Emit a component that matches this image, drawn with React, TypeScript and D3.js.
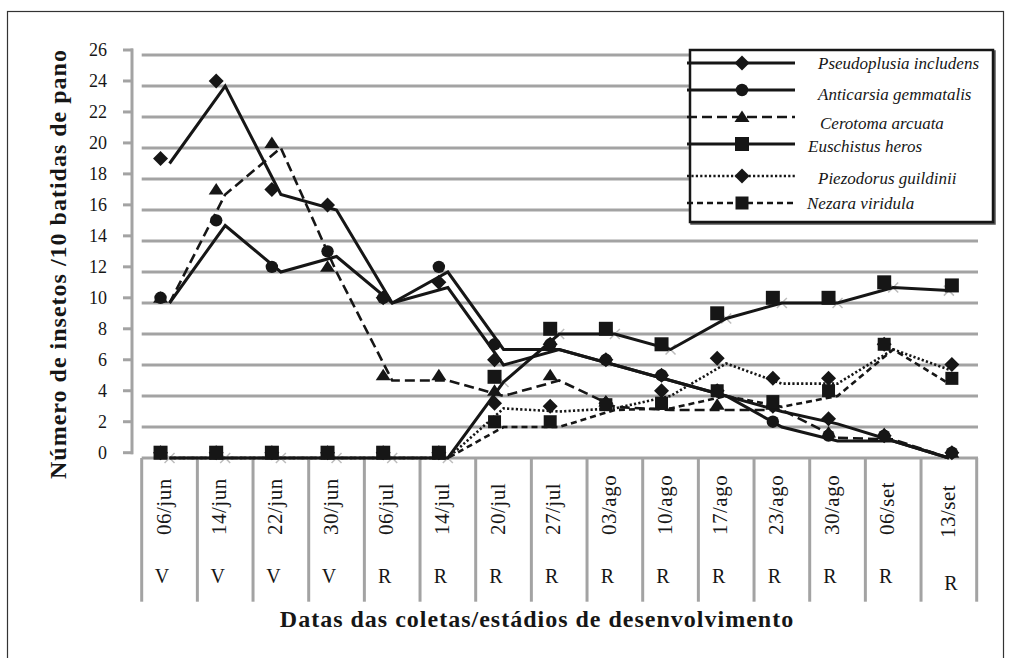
import * as d3 from "d3";

// collection dates and crop stages (V = vegetative, R = reproductive)
const dates = ["06/jun", "14/jun", "22/jun", "30/jun", "06/jul", "14/jul", "20/jul", "27/jul", "03/ago", "10/ago", "17/ago", "23/ago", "30/ago", "06/set", "13/set"];
const stages = ["V", "V", "V", "V", "R", "R", "R", "R", "R", "R", "R", "R", "R", "R", "R"];
const yTicks = [0, 2, 4, 6, 8, 10, 12, 14, 16, 18, 20, 22, 24, 26];

// insects per 10 cloth beats
const pseudoplusia = [19, 24, 17, 16, 10, 11, 6, 7, 6, 5, 4, 3, 2.2, 1.1, 0];
const anticarsia = [10, 15, 12, 13, 10, 12, 7, 7, 6, 5, 4, 2, 1.1, 1.1, 0];
const cerotoma = [10, 17, 20, 12, 5, 5, 4, 5, 3.3, 3.1, 3.1, 3.1, 1.3, 1.2, 0];
const euschistus = [0, 0, 0, 0, 0, 0, 4.9, 8, 8, 7, 9, 10, 10, 11, 10.8];
const piezodorus = [0, 0, 0, 0, 0, 0, 3.2, 3, 3.2, 4, 6.1, 4.8, 4.8, 7, 5.7];
const nezara = [0, 0, 0, 0, 0, 0, 2, 2, 3.1, 3.2, 4, 3.3, 4, 7, 4.8];

type Shape = "diamond" | "circle" | "triangle" | "square" | "smallSquare";
interface Serie { name: string; values: number[]; dash: string | null; shape: Shape }

const series: Serie[] = [
    { name: "Pseudoplusia includens", values: pseudoplusia, dash: null, shape: "diamond" },
    { name: "Anticarsia gemmatalis", values: anticarsia, dash: null, shape: "circle" },
    { name: "Cerotoma arcuata", values: cerotoma, dash: "10,5", shape: "triangle" },
    { name: "Euschistus heros", values: euschistus, dash: null, shape: "square" },
    { name: "Piezodorus guildinii", values: piezodorus, dash: "2.2,2.2", shape: "diamond" },
    { name: "Nezara viridula", values: nezara, dash: "6,4", shape: "smallSquare" },
]

const FONT = "'Liberation Serif', 'Times New Roman', serif"
const GRID = "#a3a3a3"
const INK = "#161616"

// layout of the legend rows
const legendRowY = [63, 90, 117, 144, 176, 203]
const legendTextX = [818, 818, 820, 808, 818, 807]
const legendTextDy = [0, 4, 6, 2, 2, 0]

const Marker = ({ shape, x, y }: { shape: Shape, x: number, y: number }) => {
    if (shape === "circle") return <circle cx={x} cy={y} r={6.2} fill={INK} />
    let d = ""
    if (shape === "diamond") d = "M0,-7.5L7.5,0L0,7.5L-7.5,0Z"
    if (shape === "triangle") d = "M0,-6.5L7.5,5L-7.5,5Z"
    if (shape === "square") d = "M-7,-7h14v14h-14Z"
    if (shape === "smallSquare") d = "M-6.5,-6.5h13v13h-13Z"
    return <path d={d} transform={`translate(${x},${y})`} fill={INK} />
}

const App = () => {
    const width = 1014
    const height = 658
    // category bands of the plot area
    const x = d3.scaleBand().domain(dates).range([141.7, 976.7]).padding(0)
    const bw = x.bandwidth()
    const cx = (i: number) => (x(dates[i]) ?? 0) + bw / 2
    // lines sit on the gridlines, markers on the axis ticks (a few px up/left)
    const yLine = d3.scaleLinear().domain([0, 26]).range([458, 55])
    const yMark = d3.scaleLinear().domain([0, 26]).range([452.7, 50])
    const last = dates.length - 1
    const markDx = (i: number) => (i === last ? 3 : -9)

    const line = d3.line<number>()
        .x((_, i) => cx(i))
        .y(d => yLine(d))

    const gridVals = yTicks.filter(t => t > 0)

    return (
        <svg width={width} height={height} style={{ position: "absolute", left: 0, top: 0, background: "#fff" }}
            fontFamily={FONT}>
            <rect x={0} y={0} width={width} height={height} fill="#fff" />
            {/* outer frame */}
            <rect x={7.5} y={11.5} width={996} height={660} fill="none" stroke="#333" strokeWidth={1.2} />

            {/* horizontal gridlines */}
            {gridVals.map(t => (
                <line key={t} x1={141.7} x2={978} y1={yLine(t)} y2={yLine(t)} stroke={GRID} strokeWidth={3} />
            ))}
            {/* category axis line and separators */}
            <line x1={141.7} x2={978} y1={yLine(0)} y2={yLine(0)} stroke={GRID} strokeWidth={3} />
            {d3.range(dates.length + 1).map(k => {
                const xx = 141.7 + k * bw
                return <line key={k} x1={xx} x2={xx} y1={yLine(0)} y2={601.7} stroke={GRID} strokeWidth={3} />
            })}

            {/* value axis */}
            <line x1={132} x2={132} y1={yMark(26) - 1.5} y2={yMark(0) + 1.5} stroke={GRID} strokeWidth={3} />
            {yTicks.map(t => (
                <g key={t}>
                    <line x1={123} x2={133} y1={yMark(t)} y2={yMark(t)} stroke={GRID} strokeWidth={3} />
                    <text x={107} y={yMark(t)} dy="0.35em" textAnchor="end" fontSize={18} fill={INK}>{t}</text>
                </g>
            ))}

            {/* date and stage labels */}
            {dates.map((d, i) => (
                <text key={d} transform={`translate(${cx(i) + (i === last ? 6 : 1)},${i === last ? 538 : 535}) rotate(-90)`}
                    fontSize={21} letterSpacing={0.5} fill={INK}>{d}</text>
            ))}
            {stages.map((s, i) => (
                <text key={i} x={cx(i) + (i === last ? 2 : -7.5)} y={i === last ? 590 : 583} textAnchor="middle"
                    fontSize={20} fill={INK}>{s}</text>
            ))}

            {/* axis titles */}
            <text x={537} y={627} textAnchor="middle" fontSize={24} fontWeight="bold" letterSpacing={1} fill={INK}>
                Datas das coletas/estádios de desenvolvimento
            </text>
            <text transform="translate(66,264) rotate(-90)" textAnchor="middle" fontSize={24} fontWeight="bold"
                letterSpacing={1} fill={INK}>
                Número de insetos /10 batidas de pano
            </text>

            {/* grey x marks on the Euschistus vertices */}
            {euschistus.map((v, i) => (
                <path key={i} d="M-5,-5L5,5M-5,5L5,-5" transform={`translate(${cx(i)},${yLine(v)})`}
                    stroke="#bdbdbd" strokeWidth={1.5} fill="none" />
            ))}

            {/* series lines */}
            {series.map(s => (
                <path key={s.name} d={line(s.values) ?? ""} fill="none" stroke={INK}
                    strokeWidth={s.dash ? 2.6 : 3} strokeDasharray={s.dash ?? undefined} strokeLinejoin="miter" />
            ))}

            {/* markers */}
            {series.map(s => (
                <g key={s.name}>
                    {s.values.map((v, i) => (
                        <Marker key={i} shape={s.shape} x={cx(i) + markDx(i)} y={yMark(v)} />
                    ))}
                </g>
            ))}

            {/* legend */}
            <rect x={691.5} y={51.5} width={303} height={172} fill="none" stroke="#555" strokeWidth={2.5} />
            <rect x={690} y={50} width={303} height={172} fill="#fff" stroke={INK} strokeWidth={2.5} />
            {series.map((s, i) => (
                <g key={s.name}>
                    <line x1={687} x2={795} y1={legendRowY[i]} y2={legendRowY[i]} stroke={INK}
                        strokeWidth={s.dash ? 2.6 : 3} strokeDasharray={s.dash ?? undefined} />
                    <Marker shape={s.shape} x={742} y={legendRowY[i]} />
                    <text x={legendTextX[i]} y={legendRowY[i] + legendTextDy[i]} dy="0.33em" fontSize={17}
                        fontStyle="italic" fill={INK}>{s.name}</text>
                </g>
            ))}
        </svg>
    )
}

export default App
